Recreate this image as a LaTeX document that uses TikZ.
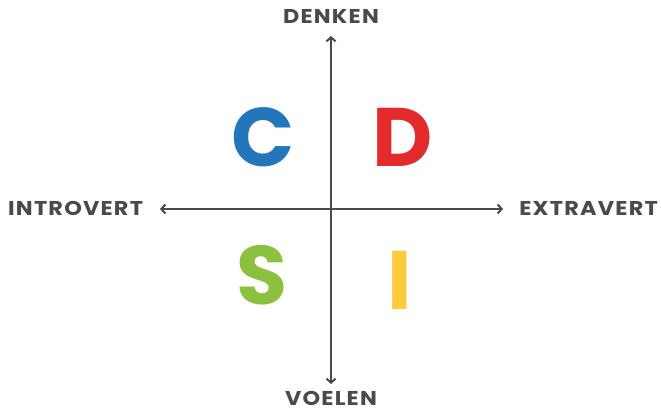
\documentclass[tikz,border=0pt]{standalone}
\usepackage{fontspec}
\setmainfont{Poppins}
\usepackage{tikz}
\usetikzlibrary{arrows.meta}
\definecolor{blauw}{HTML}{2276B9}
\definecolor{rood}{HTML}{E32A2C}
\definecolor{groen}{HTML}{8BC13F}
\definecolor{geel}{HTML}{FFCA3D}
\definecolor{donkerGrijs}{HTML}{4A4A4A}

\begin{document}
\begin{tikzpicture}[x=1pt,y=1pt,
  as/.style={donkerGrijs,line width=2.4pt,{Straight Barb[length=4pt,width=9pt,line width=2pt]}-{Straight Barb[length=4pt,width=9pt,line width=2pt]}},
  woord/.style={text=donkerGrijs,font=\fontsize{20}{20}\selectfont\addfontfeatures{FakeStretch=1.12,LetterSpace=6}\bfseries,inner sep=0pt},
  letter/.style={font=\fontsize{83}{83}\selectfont\bfseries,inner sep=0pt}]
\useasboundingbox (0,0) rectangle (661,412);
% assen
\coordinate (boven) at (331,376);
\coordinate (onder) at (331,28);
\coordinate (links) at (160,203);
\coordinate (rechts) at (503,203);
\draw[as] (onder)--(boven);
\draw[as] (links)--(rechts);
% labels
\node[woord,anchor=base] (denken) at (331,388) {DENKEN};
\node[woord,anchor=base] (voelen) at (331,6) {VOELEN};
\node[woord,anchor=base west] (introvert) at (8,196) {INTROVERT};
\node[woord,anchor=base east] (extravert) at (658,196) {EXTRAVERT};
% kwadranten
\node[letter,text=blauw] (c) at (263,275) {C};
\node[letter,text=rood] (d) at (403,275) {D};
\node[letter,text=groen] (s) at (262,137) {S};
\node[letter,text=geel] (i) at (400,132) {I};
\end{tikzpicture}
\end{document}
